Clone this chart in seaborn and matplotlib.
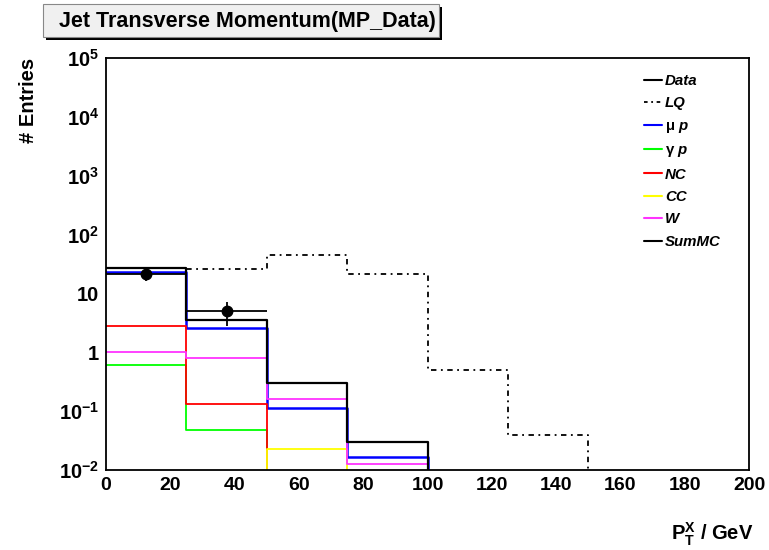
import numpy as np
import pandas as pd
import matplotlib
matplotlib.use("Agg")
import matplotlib.pyplot as plt
import seaborn as sns
from matplotlib.ticker import FixedLocator, LogLocator, NullFormatter, MultipleLocator, FixedFormatter
from matplotlib.patches import Rectangle
from matplotlib.lines import Line2D

# ---------------- data ----------------
bin_edges = [0, 25, 50, 75, 100, 125, 150, 175, 200]
data_counts = [21, 5, 0, 0, 0, 0, 0, 0]
lq = [27.0, 26.5, 45.0, 21.5, 0.50, 0.039, 0, 0]
mu_p = [23.0, 2.6, 0.112, 0.0168, 0, 0, 0, 0]
gamma_p = [0.62, 0.047, 0, 0, 0, 0, 0, 0]
nc = [2.8, 0.13, 0, 0, 0, 0, 0, 0]
cc = [0, 0, 0.0224, 0, 0, 0, 0, 0]
w = [1.0, 0.81, 0.16, 0.0126, 0, 0, 0, 0]
sum_mc = [27.5, 3.6, 0.295, 0.030, 0, 0, 0, 0]

labels = ["Data", "LQ", r"$\mathrm{\mu}$ p", r"$\mathrm{\gamma}$ p", "NC", "CC", "W", "SumMC"]
y_tick_values = [1e-2, 1e-1, 1, 10, 1e2, 1e3, 1e4, 1e5]
y_tick_labels = [r"$\mathbf{10^{-2}}$", r"$\mathbf{10^{-1}}$", "1", "10",
                 r"$\mathbf{10^{2}}$", r"$\mathbf{10^{3}}$", r"$\mathbf{10^{4}}$", r"$\mathbf{10^{5}}$"]
x_ticks = [0, 20, 40, 60, 80, 100, 120, 140, 160, 180, 200]

title = "Jet Transverse Momentum(MP_Data)"

# ---------------- style ----------------
sns.set_style("white")
plt.rcParams["font.family"] = ["Liberation Sans", "DejaVu Sans"]
plt.rcParams["font.weight"] = "bold"
plt.rcParams["text.color"] = "black"
plt.rcParams["axes.labelcolor"] = "black"
plt.rcParams["xtick.color"] = "black"
plt.rcParams["ytick.color"] = "black"
plt.rcParams["mathtext.fontset"] = "custom"
plt.rcParams["mathtext.rm"] = "Liberation Sans"
plt.rcParams["mathtext.bf"] = "Liberation Sans:bold"
plt.rcParams["mathtext.it"] = "Liberation Sans:italic:bold"

W_PX, H_PX = 769, 550
fig = plt.figure(figsize=(W_PX / 100, H_PX / 100), dpi=100)
fig.patch.set_facecolor("white")

ax_l, ax_r, ax_t, ax_b = 106, 749, 58, 470
ax = fig.add_axes([ax_l / W_PX, 1 - ax_b / H_PX, (ax_r - ax_l) / W_PX, (ax_b - ax_t) / H_PX])
ax.set_yscale("log")

edges = [float(e) for e in bin_edges]
centers = [(a + b) / 2 for a, b in zip(edges[:-1], edges[1:])]

series = [
    (lq, "black", (0, (3, 2.5, 1, 2.5)), 1.3),
    (mu_p, "#0000ff", "-", 1.8),
    (gamma_p, "#00ff00", "-", 1.3),
    (nc, "#ff0000", "-", 1.3),
    (cc, "#ffff00", "-", 1.3),
    (w, "#ff33ff", "-", 1.3),
    (sum_mc, "black", "-", 1.6),
]
for vals, col, ls, lw in series:
    df = pd.DataFrame({"x": centers, "w": vals})
    sns.histplot(data=df, x="x", weights="w", bins=edges, element="step", fill=False,
                 color=col, linestyle=ls, linewidth=lw, ax=ax)

# data points
dd = np.array(data_counts, dtype=float)
cc_arr = np.array(centers)
m = dd > 0
ax.errorbar(cc_arr[m], dd[m], yerr=np.sqrt(dd[m]), xerr=12.5, fmt="o", color="black",
            markersize=7.5, elinewidth=1.3, capsize=0, zorder=10)

ax.set_xlim(0, 200)
ax.set_ylim(1e-2, 1e5)

# ticks
ax.xaxis.set_major_locator(FixedLocator(x_ticks))
ax.xaxis.set_minor_locator(MultipleLocator(5))
ax.yaxis.set_major_locator(FixedLocator(y_tick_values))
ax.yaxis.set_major_formatter(FixedFormatter(y_tick_labels))
ax.yaxis.set_minor_locator(LogLocator(base=10, subs=np.arange(2, 10)))
ax.yaxis.set_minor_formatter(NullFormatter())
ax.tick_params(axis="x", which="major", direction="in", length=9, width=1.2, labelsize=14, pad=5)
ax.tick_params(axis="x", which="minor", direction="in", length=4.5, width=1.0)
ax.tick_params(axis="y", which="major", direction="in", length=13, width=1.2, labelsize=14.5, pad=5)
ax.tick_params(axis="y", which="minor", direction="in", length=6.5, width=1.0)
for lab in ax.get_xticklabels() + ax.get_yticklabels():
    lab.set_fontweight("bold")
for s in ax.spines.values():
    s.set_visible(True)
    s.set_color("black")
    s.set_linewidth(1.3)

ax.set_xlabel(r"$\mathbf{P_{T}^{X}}$ / GeV", fontsize=14.5, fontweight="bold")
ax.xaxis.set_label_coords((753 - ax_l) / (ax_r - ax_l), -(540 - ax_b) / (ax_b - ax_t))
ax.xaxis.label.set_ha("right")
ax.xaxis.label.set_va("baseline")
ax.set_ylabel("# Entries", fontsize=14.5, fontweight="bold")
ax.yaxis.set_label_coords((29 - ax_l) / (ax_r - ax_l), 1.0)
ax.yaxis.label.set_va("center")
ax.yaxis.label.set_ha("right")

# legend
handles = [
    Line2D([], [], color="black", lw=1.5),
    Line2D([], [], color="black", lw=1.3, linestyle=(0, (2, 2, 1, 2))),
    Line2D([], [], color="#0000ff", lw=1.5),
    Line2D([], [], color="#00ff00", lw=1.5),
    Line2D([], [], color="#ff0000", lw=1.5),
    Line2D([], [], color="#ffff00", lw=1.5),
    Line2D([], [], color="#ff33ff", lw=1.5),
    Line2D([], [], color="black", lw=1.5),
]
leg = ax.legend(handles, labels, loc="upper left",
                bbox_to_anchor=((644 - ax_l) / (ax_r - ax_l), 1 - (74 - ax_t) / (ax_b - ax_t)),
                frameon=False, prop={"size": 10.8, "weight": "bold", "style": "italic"},
                handlelength=1.2, handletextpad=0.2, labelspacing=0.56, borderaxespad=0, borderpad=0)

# title box with shadow
bx0, by0, bx1, by1 = 43, 4, 439, 37
fig.patches.append(Rectangle(((bx0 + 3) / W_PX, 1 - (by1 + 3) / H_PX), (bx1 - bx0) / W_PX, (by1 - by0) / H_PX,
                             transform=fig.transFigure, facecolor="black", edgecolor="none", zorder=1))
fig.patches.append(Rectangle((bx0 / W_PX, 1 - by1 / H_PX), (bx1 - bx0) / W_PX, (by1 - by0) / H_PX,
                             transform=fig.transFigure, facecolor="#f0f0f0", edgecolor="#888888", lw=0.8, zorder=2))
fig.text(247.5 / W_PX, 1 - 21 / H_PX, title, ha="center", va="center",
         fontsize=15.5, fontweight="bold", zorder=3)

fig.savefig("out.png", dpi=100, facecolor="white")
